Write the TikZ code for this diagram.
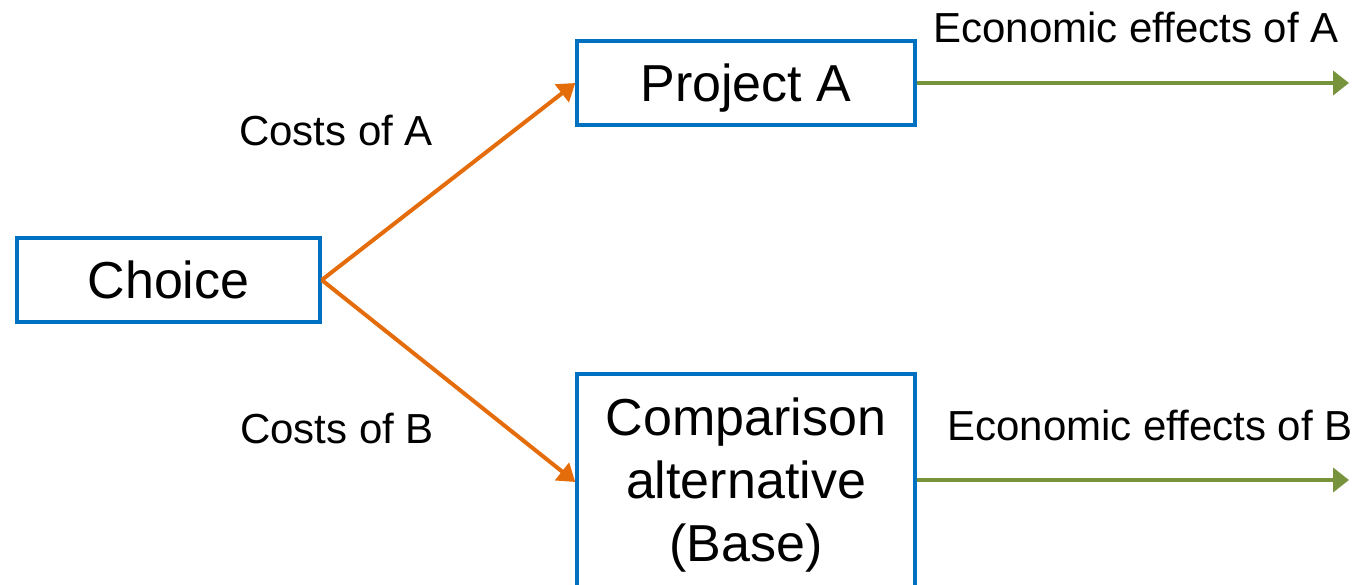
\documentclass[tikz,border=0pt]{standalone}
\usepackage{fontspec}
\setmainfont{Liberation Sans}
\usetikzlibrary{arrows.meta}
\definecolor{boxblue}{HTML}{0070C0}
\definecolor{costorange}{HTML}{E46C0A}
\definecolor{effgreen}{HTML}{77933C}
\tikzset{
  box/.style={draw=boxblue, line width=3.5pt, rectangle, inner sep=0pt, align=center,
    font=\fontsize{52}{63}\selectfont},
  lbl/.style={inner sep=0pt, anchor=base, font=\fontsize{42}{50}\selectfont},
  costarrow/.style={draw=costorange, line width=4pt, -{Triangle[length=17pt,width=22pt]}},
  effarrow/.style={draw=effgreen, line width=4.5pt, -{Triangle[length=16pt,width=24pt]}}
}
\begin{document}
\begin{tikzpicture}[x=1pt,y=-1pt]
\useasboundingbox (0,0) rectangle (1362,585);
\node[box, minimum width=303pt, minimum height=84pt, text depth=0pt] (ch) at (168.5,280) {Choice};
\node[box, minimum width=338pt, minimum height=84pt, text depth=0pt] (pa) at (746,83) {Project A};
\node[box, minimum width=338pt, minimum height=222pt] (cmp) at (746,485) {Comparison\\alternative\\(Base)};
\coordinate (ea) at (1349,83);
\coordinate (eb) at (1349,480);
\draw[costarrow] (ch.east) -- (pa.west);
\draw[costarrow] (ch.east) -- ([yshift=3pt]cmp.west);
\draw[effarrow] (pa.east) -- (ea);
\draw[effarrow] ([yshift=5pt]cmp.east) -- (eb);
\node[lbl] (ca) at (336,146) {Costs of A};
\node[lbl] (cb) at (337,443) {Costs of B};
\node[lbl] (eaa) at (1136,43) {Economic effects of A};
\node[lbl] (ebb) at (1150,440) {Economic effects of B};
\end{tikzpicture}
\end{document}
